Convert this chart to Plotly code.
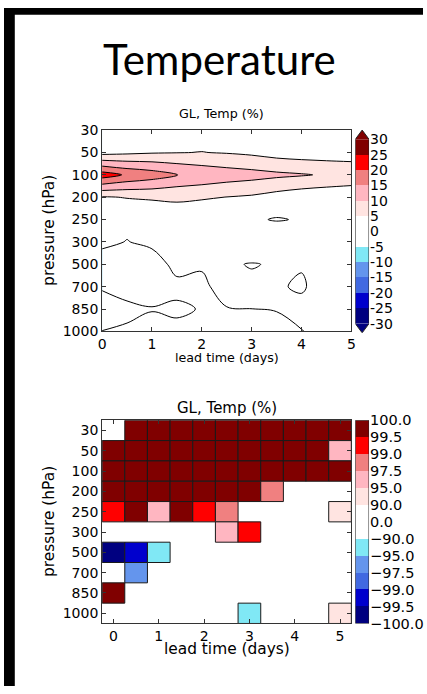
import numpy as np
import plotly.graph_objects as go

# ---------------- data ----------------
pressure_labels = ["30", "50", "100", "200", "250", "300", "500", "700", "850", "1000"]
lead_days = [0, 0.5, 1, 1.5, 2, 2.5, 3, 3.5, 4, 4.5, 5]
day_ticks = [0, 1, 2, 3, 4, 5]

# top panel: temperature change (%) per pressure level (rows) and lead time (cols)
temp_pct = [
    [2.0, 2.2, 2.3, 2.5, 2.5, 2.3, 2.0, 1.8, 1.5, 1.5, 1.5],            # 30
    [3.3, 4.0, 4.6, 4.85, 5.1, 4.7, 4.07, 3.0, 2.46, 2.36, 2.36],       # 50
    [22.5, 19.3, 17.5, 15.2, 13.5, 12.5, 11.8, 11.0, 10.4, 9.5, 8.8],   # 100
    [4.64, 5.2, 5.6, 5.4, 5.6, 4.9, 4.33, 3.0, 1.83, 1.32, 0.88],       # 200
    [3.0, 1.2, 1.0, 3.6, 0.5, 1.5, 0.58, -0.3, 0.33, 1.0, 0.8],         # 250
    [1.0, -0.15, 1.0, 2.0, 2.5, 3.0, 4.7, 4.0, 3.0, 2.5, 2.0],          # 300
    [-2.23, -2.0, -2.23, 1.37, 1.0, 0.7, -0.3, 0.53, 0.31, 1.5, 1.5],   # 500
    [-0.33, -1.78, -2.7, -1.12, -2.03, 3.94, 1.13, 0.43, -0.5, 2.0, 2.0],  # 700
    [1.5, 1.0, 0.3, 0.72, -0.25, -0.44, -0.02, 0.2, 1.17, 2.0, 2.0],    # 850
    [-0.05, -0.59, -2.2, -1.08, -1.5, -1.5, -1.5, -1.47, -0.13, 1.17, 1.5],  # 1000
]
top_levels = [-30, -25, -20, -15, -10, -5, 0, 5, 10, 15, 20, 25, 30]
top_level_text = ["-30", "-25", "-20", "-15", "-10", "-5", "0", "5", "10", "15", "20", "25", "30"]

# bottom panel: significance (%) ; None = not significant
N = None
signif_pct = [
    [N, 99.8, 99.8, 99.8, 99.8, 99.8, 99.8, 99.8, 99.8, 99.8, 99.8],        # 30
    [99.8, 99.8, 99.8, 99.8, 99.8, 99.8, 99.8, 99.8, 99.8, 99.8, 96.0],     # 50
    [99.8, 99.8, 99.8, 99.8, 99.8, 99.8, 99.8, 99.8, 99.8, 99.8, 99.8],     # 100
    [99.8, 99.8, 99.8, 99.8, 99.8, 99.8, 99.8, 98.0, N, N, N],              # 200
    [99.2, 99.8, 96.0, 99.8, 99.2, 98.0, N, N, N, N, 92.0],                 # 250
    [N, N, N, N, N, 96.0, 99.2, N, N, N, N],                                # 300
    [-99.8, -99.2, -92.0, N, N, N, N, N, N, N, N],                          # 500
    [N, -96.0, N, N, N, N, N, N, N, N, N],                                  # 700
    [99.8, N, N, N, N, N, N, N, N, N, N],                                   # 850
    [N, N, N, N, N, N, -92.0, N, N, N, 92.0],                               # 1000
]
sig_bounds = [-100.0, -99.5, -99.0, -97.5, -95.0, -90.0, 0.0, 90.0, 95.0, 97.5, 99.0, 99.5, 100.0]
sig_bound_text = ["\u2212100.0", "\u221299.5", "\u221299.0", "\u221297.5", "\u221295.0", "\u221290.0",
                  "0.0", "90.0", "95.0", "97.5", "99.0", "99.5", "100.0"]

band_colors = ["#000080", "#0000cd", "#4169e1", "#6495ed", "#80e8f5", "#ffffff",
               "#ffffff", "#ffe4e1", "#ffb6c1", "#f08080", "#ff0000", "#800000"]

FONT = "DejaVu Sans"
W, H = 427, 694


def px_x(p):
    return p / W


def px_y(p):
    return 1 - p / H


fig = go.Figure()

# ---------------- top: filled contour ----------------
cs_colors = [band_colors[0]] + band_colors + [band_colors[-1]]
contour_scale = [[k / 13, c] for k, c in enumerate(cs_colors)]
fig.add_trace(go.Contour(
    x=lead_days, y=list(range(len(pressure_labels))), z=temp_pct,
    colorscale=contour_scale, autocontour=False,
    contours=dict(start=top_levels[0], end=top_levels[-1], size=5,
                  coloring="fill", showlines=True),
    line=dict(color="black", width=1), showscale=False,
    hoverinfo="skip", xaxis="x", yaxis="y"))

# top colorbar (own axes)
step_scale = []
for i, c in enumerate(band_colors):
    step_scale += [[i / 12, c], [(i + 1) / 12, c]]
mids = [(a + b) / 2 for a, b in zip(top_levels[:-1], top_levels[1:])]
fig.add_trace(go.Heatmap(x=[0, 1], y=top_levels, z=[[m] for m in mids],
                         colorscale=step_scale, zmin=top_levels[0], zmax=top_levels[-1],
                         showscale=False, hoverinfo="skip", xaxis="x3", yaxis="y3"))
ext = 3
lo, hi = top_levels[0], top_levels[-1]
fig.add_trace(go.Scatter(x=[0, 1, 0.5, 0], y=[hi, hi, hi + ext, hi], fill="toself",
                         fillcolor=band_colors[-1], mode="lines", line=dict(width=0),
                         hoverinfo="skip", showlegend=False, xaxis="x3", yaxis="y3"))
fig.add_trace(go.Scatter(x=[0, 1, 0.5, 0], y=[lo, lo, lo - ext, lo], fill="toself",
                         fillcolor=band_colors[0], mode="lines", line=dict(width=0),
                         hoverinfo="skip", showlegend=False, xaxis="x3", yaxis="y3"))
fig.add_trace(go.Scatter(x=[0, 0, 0.5, 1, 1, 0.5, 0], y=[lo, hi, hi + ext, hi, lo, lo - ext, lo],
                         mode="lines", line=dict(color="#222", width=1),
                         hoverinfo="skip", showlegend=False, xaxis="x3", yaxis="y3"))

# ---------------- bottom: significance cells ----------------
sig_arr = np.array([[np.nan if v is None else v for v in row] for row in signif_pct], dtype=float)
half = (lead_days[1] - lead_days[0]) / 2
for r in range(sig_arr.shape[0]):
    for c in range(sig_arr.shape[1]):
        v = sig_arr[r, c]
        if np.isnan(v):
            continue
        b = int(np.clip(np.searchsorted(sig_bounds, v) - 1, 0, 11))
        x0, x1 = lead_days[c] - half, lead_days[c] + half
        y0, y1 = r - 0.5, r + 0.5
        fig.add_trace(go.Scatter(x=[x0, x1, x1, x0, x0], y=[y0, y0, y1, y1, y0],
                                 fill="toself", fillcolor=band_colors[b], mode="lines",
                                 line=dict(color="#1a1a1a", width=1),
                                 hoverinfo="skip", showlegend=False, xaxis="x2", yaxis="y2"))

# bottom colorbar
fig.add_trace(go.Heatmap(x=[0, 1], y=list(range(13)), z=[[i + 0.5] for i in range(12)],
                         colorscale=step_scale, zmin=0, zmax=12, showscale=False,
                         hoverinfo="skip", xaxis="x4", yaxis="y4"))
fig.add_trace(go.Scatter(x=[0, 1, 1, 0, 0], y=[0, 0, 12, 12, 0], mode="lines",
                         line=dict(color="#222", width=1), hoverinfo="skip",
                         showlegend=False, xaxis="x4", yaxis="y4"))

# ---------------- layout ----------------
axis_common = dict(showline=True, linecolor="#333", linewidth=1, mirror="allticks",
                   ticks="inside", ticklen=4, tickcolor="#333", showgrid=False,
                   zeroline=False, tickfont=dict(family=FONT, size=14, color="black"))
plot_x = [px_x(100), px_x(354)]
cb_x = [px_x(358), px_x(372)]

fig.update_layout(
    width=W, height=H, margin=dict(l=0, r=0, t=0, b=0),
    paper_bgcolor="white", plot_bgcolor="white", showlegend=False,
    xaxis=dict(domain=plot_x, anchor="y", range=[0, 5], tickvals=day_ticks, **axis_common),
    yaxis=dict(domain=[px_y(331), px_y(125)], anchor="x", range=[9, 0],
               tickvals=list(range(10)), ticktext=pressure_labels, **axis_common),
    xaxis2=dict(domain=plot_x, anchor="y2", range=[-0.25, 5.25], tickvals=day_ticks, **axis_common),
    yaxis2=dict(domain=[px_y(630), px_y(422)], anchor="x2", range=[9.5, -0.5],
                tickvals=list(range(10)), ticktext=pressure_labels, **axis_common),
    xaxis3=dict(domain=cb_x, anchor="y3", range=[0, 1], visible=False),
    yaxis3=dict(domain=[px_y(332.5), px_y(125)], anchor="x3", side="right", range=[-33, 33],
                tickvals=top_levels, ticktext=top_level_text, showline=False, ticks="",
                showgrid=False, zeroline=False,
                tickfont=dict(family=FONT, size=14, color="black")),
    xaxis4=dict(domain=cb_x, anchor="y4", range=[0, 1], visible=False),
    yaxis4=dict(domain=[px_y(630), px_y(422)], anchor="x4", side="right", range=[0, 12],
                tickvals=list(range(13)), ticktext=sig_bound_text, showline=False, ticks="",
                showgrid=False, zeroline=False,
                tickfont=dict(family=FONT, size=14.5, color="black")),
)

shapes = [
    dict(type="rect", xref="paper", yref="paper", x0=0, x1=px_x(11), y0=0, y1=1,
         fillcolor="black", line=dict(width=0), layer="above"),
    dict(type="rect", xref="paper", yref="paper", x0=0, x1=1, y0=px_y(7), y1=1,
         fillcolor="black", line=dict(width=0), layer="above"),
]
fig.update_layout(shapes=shapes)


def ann(text, x, y, size, family=FONT, angle=0):
    return dict(text=text, x=px_x(x), y=px_y(y), xref="paper", yref="paper",
                xanchor="center", yanchor="middle", showarrow=False, textangle=angle,
                font=dict(family=family, size=size, color="black"))


fig.update_layout(annotations=[
    ann("Temperature", 220, 52, 42, family="Lato"),
    ann("GL, Temp (%)", 222, 108.5, 12.7),
    ann("lead time (days)", 227.5, 358, 12.7),
    ann("pressure (hPa)", 46, 228, 15.4, angle=-90),
    ann("GL, Temp (%)", 227.5, 409, 15),
    ann("lead time (days)", 227, 656, 15.4),
    ann("pressure (hPa)", 46, 526, 15.4, angle=-90),
])

fig.write_html(
    "out.html",
    post_script="document.body.style.margin='0';document.body.style.padding='0';"
                "document.documentElement.style.overflow='hidden';",
)
